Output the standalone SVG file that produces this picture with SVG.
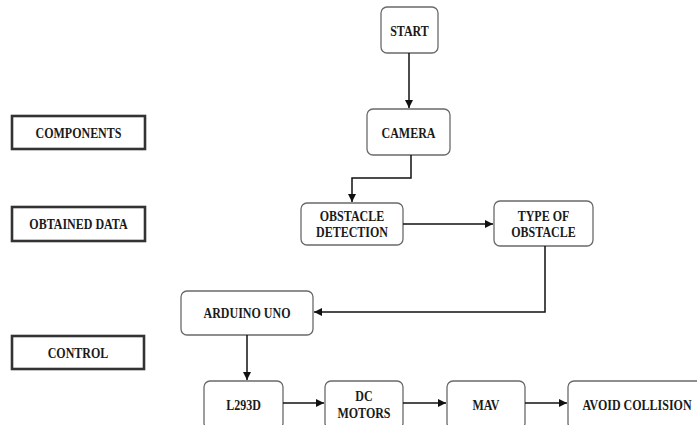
<svg xmlns="http://www.w3.org/2000/svg" width="697" height="425" viewBox="0 0 697 425">
<defs>
<marker id="ah" viewBox="0 0 10 10" refX="10" refY="5" markerWidth="8" markerHeight="8" markerUnits="userSpaceOnUse" orient="auto">
<path d="M0,0 L10,5 L0,10 z" fill="#111"/>
</marker>
</defs>
<style>
.n rect{fill:#fff;stroke:#6a6a6a;stroke-width:1.3}
.l rect{fill:#fff;stroke:#333;stroke-width:2.6}
text{font-family:'Liberation Serif','Times New Roman','DejaVu Serif',serif;font-weight:bold;font-size:12px;fill:#1a1a1a;text-anchor:middle;dominant-baseline:central;transform-box:fill-box;transform-origin:center;transform:scaleY(1.15)}
.e path{fill:none;stroke:#111;stroke-width:1.5;marker-end:url(#ah)}
</style>
<rect width="697" height="425" fill="#fff"/>
<g id="components" class="l"><rect x="12" y="116" width="133" height="33"/><text x="78.5" y="133">COMPONENTS</text></g>
<g id="obtained" class="l"><rect x="12" y="207" width="133" height="34"/><text x="78.5" y="224">OBTAINED DATA</text></g>
<g id="control" class="l"><rect x="12" y="336" width="132" height="33"/><text x="78" y="353">CONTROL</text></g>
<g id="start" class="n"><rect x="381" y="7" width="57" height="46" rx="6"/><text x="409.5" y="31">START</text></g>
<g id="camera" class="n"><rect x="367" y="109" width="83" height="46" rx="6"/><text x="408.5" y="133">CAMERA</text></g>
<g id="obstacle" class="n"><rect x="301" y="203" width="102" height="42" rx="6"/><text x="352" y="216">OBSTACLE</text><text x="352" y="232">DETECTION</text></g>
<g id="type" class="n"><rect x="494" y="201" width="99" height="45" rx="6"/><text x="543.5" y="216">TYPE OF</text><text x="543.5" y="232">OBSTACLE</text></g>
<g id="arduino" class="n"><rect x="181" y="291" width="132" height="44" rx="6"/><text x="247" y="313">ARDUINO UNO</text></g>
<g id="l293d" class="n"><rect x="204" y="381" width="79" height="48" rx="6"/><text x="243.5" y="405">L293D</text></g>
<g id="dc" class="n"><rect x="325" y="381" width="78" height="48" rx="6"/><text x="364" y="396">DC</text><text x="364" y="413">MOTORS</text></g>
<g id="mav" class="n"><rect x="447" y="381" width="78" height="48" rx="6"/><text x="486" y="405">MAV</text></g>
<g id="avoid" class="n"><rect x="568" y="381" width="140" height="48" rx="6"/><text x="637" y="405">AVOID COLLISION</text></g>
<g id="connectors" class="e">
<path d="M409,53 V108"/>
<path d="M411,155 V178 H352 V202"/>
<path d="M403,224 H493"/>
<path d="M545,246 V312 H314"/>
<path d="M247,335 V380"/>
<path d="M283,403 H324"/>
<path d="M403,403 H446"/>
<path d="M525,403 H567"/>
</g>
</svg>
